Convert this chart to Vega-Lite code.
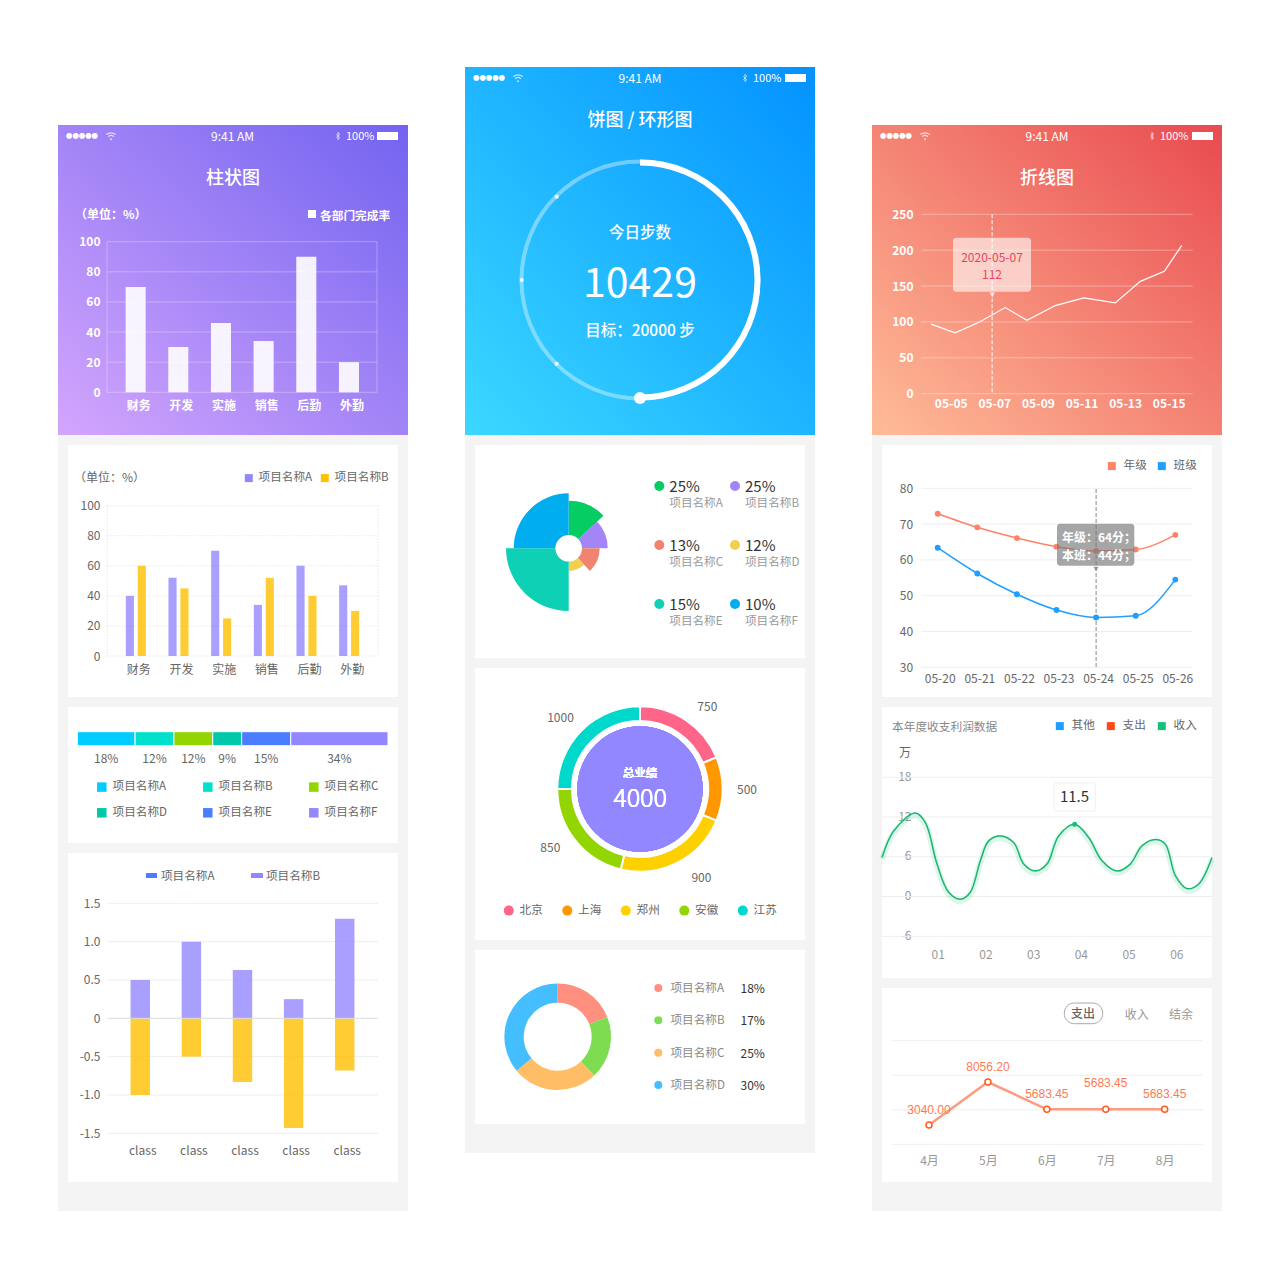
{"$schema":"https://vega.github.io/schema/vega-lite/v6.json","padding":{"left":58,"top":67,"right":0,"bottom":0},"background":"#ffffff","spacing":57,
"resolve":{"scale":{"color":"independent","theta":"independent","radius":"independent"},"legend":{"color":"independent"}},
"config":{"font":"Noto Sans CJK SC","view":{"stroke":null},"text":{"baseline":"middle","align":"left","fontSize":12,"dy":1},"axis":{"domain":false,"ticks":false,"grid":false,"labelPadding":0,"labelAngle":0,"labelFontSize":12,"labelColor":"#666666","labelOverlap":false,"labelFlush":false},"legend":{"symbolType":"square","symbolStrokeWidth":0,"symbolOpacity":1,"labelFontSize":11.6,"labelColor":"#666666","labelOffset":5},"style":{"c":{"align":"center"}}},
"hconcat":[
{"resolve":{"scale":{"color":"independent","theta":"independent","radius":"independent"},"legend":{"color":"independent"}},"vconcat":[
{"width":350,"height":58,"data":{"values":[{}]},"mark":{"type":"text","text":""}},
{"width":350,"height":315,"view":{"fill":{"gradient":"linear","x1":1,"y1":0,"x2":0,"y2":1,"stops":[{"offset":0,"color":"#7263f0"},{"offset":1,"color":"#d4a6fd"}]},"stroke":null},"data":{"values":[{}]},"layer":[
{"mark":{"type":"text","text":"●●●●●","fontSize":6.4,"fill":"#fff","x":8,"y":10}},
{"mark":{"type":"point","shape":"M-1,-.3 Q0,-1 1,-.3 M-.6,.15 Q0,-.4 .6,.15 M-.2,.55 L0,.75 L.2,.55","filled":false,"stroke":"#fff","strokeWidth":1.2,"size":90,"x":53,"y":11}},
{"mark":{"type":"text","text":"9:41 AM","style":"c","fontSize":12,"fill":"#fff","x":174.5,"y":11}},
{"mark":{"type":"point","shape":"M-.4,-.4 L.4,.4 L0,.9 L0,-.9 L.4,-.4 L-.4,.4","filled":false,"stroke":"#fff","strokeWidth":1,"size":64,"x":280,"y":11}},
{"mark":{"type":"text","text":"100%","fontSize":11,"fill":"#fff","x":288,"y":11}},
{"mark":{"type":"rect","x":319,"x2":340,"y":7,"y2":15,"fill":"#fff"}},
{"mark":{"type":"text","text":"柱状图","style":"c","fontSize":18,"fontWeight":500,"fill":"#fff","x":175,"y":53}},
{"mark":{"type":"text","text":"（单位：%）","fontSize":12,"fontWeight":"bold","fill":"#fff","x":17,"y":89}},
{"mark":{"type":"rect","x":250,"x2":258,"y":85,"y2":93,"fill":"#fff"}},
{"mark":{"type":"text","text":"各部门完成率","fontSize":11.7,"fontWeight":"bold","fill":"#fff","x":262,"y":90}},
{"data":{"values":[{"v":0},{"v":20},{"v":40},{"v":60},{"v":80},{"v":100}]},"mark":{"type":"rule","x":49,"x2":319,"stroke":"#fff","strokeOpacity":0.3},"encoding":{"y":{"field":"v","type":"quantitative","title":null,"scale":{"domain":[0,100],"range":[267.3,116.7]},"axis":{"values":[0,20,40,60,80,100],"offset":-42,"labelColor":"#fff","labelFontWeight":"bold"}}}},
{"mark":{"type":"rule","stroke":"#fff","strokeOpacity":0.3,"y":116.7,"y2":267.3},"encoding":{"x":{"value":49}}},
{"mark":{"type":"rule","stroke":"#fff","strokeOpacity":0.3,"y":116.7,"y2":267.3},"encoding":{"x":{"value":319}}},
{"data":{"values":[{"c":"财务","v":70},{"c":"开发","v":30},{"c":"实施","v":46},{"c":"销售","v":34},{"c":"后勤","v":90},{"c":"外勤","v":20}]},"mark":{"type":"bar","fill":"#fff","opacity":0.9},"encoding":{"x":{"field":"c","type":"nominal","sort":null,"title":null,"scale":{"type":"band","range":[56.3,312.3],"paddingInner":0.53,"paddingOuter":0.265},"axis":{"offset":-40,"labelOffset":3,"labelColor":"#fff","labelFontWeight":"bold"}},"y":{"field":"v","type":"quantitative","title":null,"scale":{"domain":[0,100],"range":[267.3,116.7]}}}}
]},
{"width":340,"height":262,"view":{"fill":"#fff","stroke":"#f4f4f4","strokeWidth":10},"layer":[
{"data":{"values":[{}]},"mark":{"type":"text","text":"（单位：%）","fill":"#666","x":11,"y":37}},
{"data":{"values":[{"v":0},{"v":20},{"v":40},{"v":60},{"v":80},{"v":100}]},"mark":{"type":"rule","x":44.3,"x2":315,"stroke":"#ddd","strokeDash":[1,2]},"encoding":{"y":{"field":"v","type":"quantitative","title":null,"scale":{"domain":[0,100],"range":[216,65.7]},"axis":{"values":[0,20,40,60,80,100],"offset":-37}}}},
{"data":{"values":[{}]},"mark":{"type":"rule","stroke":"#ddd","strokeDash":[1,2],"y":65.7,"y2":216},"encoding":{"x":{"value":44.3}}},
{"data":{"values":[{}]},"mark":{"type":"rule","stroke":"#ddd","strokeDash":[1,2],"y":65.7,"y2":216},"encoding":{"x":{"value":315}}},
{"data":{"values":[{"c":"财务","s":"项目名称A","v":40},{"c":"财务","s":"项目名称B","v":60},{"c":"开发","s":"项目名称A","v":52},{"c":"开发","s":"项目名称B","v":45},{"c":"实施","s":"项目名称A","v":70},{"c":"实施","s":"项目名称B","v":25},{"c":"销售","s":"项目名称A","v":34},{"c":"销售","s":"项目名称B","v":52},{"c":"后勤","s":"项目名称A","v":60},{"c":"后勤","s":"项目名称B","v":40},{"c":"外勤","s":"项目名称A","v":47},{"c":"外勤","s":"项目名称B","v":30}]},"mark":{"type":"bar","opacity":0.8},"encoding":{"x":{"field":"c","type":"nominal","sort":null,"title":null,"scale":{"type":"band","range":[51.5,307.5],"paddingInner":0.53,"paddingOuter":0.265},"axis":{"offset":-38,"labelOffset":3}},"xOffset":{"field":"s","type":"nominal","scale":{"paddingInner":0.32}},"y":{"field":"v","type":"quantitative","title":null,"scale":{"domain":[0,100],"range":[216,65.7]}},"color":{"field":"s","type":"nominal","title":null,"scale":{"domain":["项目名称A","项目名称B"],"range":["#9287ff","#ffc000"]},"legend":{"orient":"none","legendX":180,"legendY":32,"direction":"horizontal","columns":2,"symbolSize":64,"labelOffset":4,"columnPadding":6}}}}
]},
{"width":340,"height":146,"view":{"fill":"#fff","stroke":"#f4f4f4","strokeWidth":10},"data":{"values":[{"n":"项目名称A","v":18.6,"p":"18%"},{"n":"项目名称B","v":12.5,"p":"12%"},{"n":"项目名称C","v":12.5,"p":"12%"},{"n":"项目名称D","v":9.3,"p":"9%"},{"n":"项目名称E","v":15.8,"p":"15%"},{"n":"项目名称F","v":31.3,"p":"34%"}]},"transform":[{"stack":"v","groupby":[],"sort":[{"field":"n"}],"as":["a","b"]},{"calculate":"(datum.a+datum.b)/2","as":"m"}],"layer":[
{"mark":{"type":"rect","y":29.7,"y2":43.7,"stroke":"#fff","strokeWidth":1},"encoding":{"x":{"field":"a","type":"quantitative","title":null,"scale":{"domain":[0,100],"range":[14.3,325]},"axis":null},"x2":{"field":"b"},"color":{"field":"n","type":"nominal","title":null,"scale":{"domain":["项目名称A","项目名称B","项目名称C","项目名称D","项目名称E","项目名称F"],"range":["#00ccff","#00e0cc","#92d500","#00c8a8","#4a7dff","#9287ff"]},"legend":{"orient":"none","legendX":33,"legendY":79,"direction":"horizontal","columns":3,"symbolSize":90,"columnPadding":35,"rowPadding":13}}}},
{"mark":{"type":"text","style":"c","fill":"#666","y":56},"encoding":{"x":{"field":"m","type":"quantitative","title":null,"scale":{"domain":[0,100],"range":[14.3,325]},"axis":null},"text":{"field":"p"}}}
]},
{"width":340,"height":339,"view":{"fill":"#fff","stroke":"#f4f4f4","strokeWidth":10},"layer":[
{"data":{"values":[{}]},"mark":{"type":"rect","x":83,"x2":94,"y":25,"y2":30,"fill":"#4a7dff"}},
{"data":{"values":[{}]},"mark":{"type":"text","text":"项目名称A","fontSize":11.6,"fill":"#666","x":98,"y":28}},
{"data":{"values":[{}]},"mark":{"type":"rect","x":188,"x2":200,"y":25,"y2":30,"fill":"#9287ff"}},
{"data":{"values":[{}]},"mark":{"type":"text","text":"项目名称B","fontSize":11.6,"fill":"#666","x":203,"y":28}},
{"data":{"values":[{"v":-1.5},{"v":-1},{"v":-0.5},{"v":0.5},{"v":1},{"v":1.5}]},"mark":{"type":"rule","x":44.3,"x2":315,"stroke":"#eeeeee"},"encoding":{"y":{"field":"v","type":"quantitative","title":null,"scale":{"domain":[-1.5,1.5],"range":[285.3,55.3]},"axis":{"values":[-1.5,-1,-0.5,0,0.5,1,1.5],"offset":-37,"labelExpr":"datum.value==0?'0':(datum.value<0?'-':'')+format(abs(datum.value),'.1f')"}}}},
{"data":{"values":[{"c":1,"s":"A","v":-1},{"c":1,"s":"B","v":0.5},{"c":2,"s":"A","v":-0.5},{"c":2,"s":"B","v":1},{"c":3,"s":"A","v":-0.83},{"c":3,"s":"B","v":0.63},{"c":4,"s":"A","v":-1.43},{"c":4,"s":"B","v":0.25},{"c":5,"s":"A","v":-0.68},{"c":5,"s":"B","v":1.3}]},"mark":{"type":"bar","opacity":0.8},"encoding":{"x":{"field":"c","type":"ordinal","title":null,"scale":{"type":"band","range":[51.7,307.3],"paddingInner":0.62,"paddingOuter":0.31},"axis":{"offset":-42,"labelOffset":2.5,"labelExpr":"'class'"}},"y":{"field":"v","type":"quantitative","title":null,"stack":null,"scale":{"domain":[-1.5,1.5],"range":[285.3,55.3]}},"color":{"field":"s","type":"nominal","scale":{"domain":["A","B"],"range":["#ffc000","#9287ff"]},"legend":null}}},
{"data":{"values":[{"v":0}]},"mark":{"type":"rule","x":44.3,"x2":315,"stroke":"#dddddd"},"encoding":{"y":{"field":"v","type":"quantitative","title":null,"scale":{"domain":[-1.5,1.5],"range":[285.3,55.3]}}}}
]},
{"width":350,"height":24,"view":{"fill":"#f4f4f4","stroke":null},"data":{"values":[{}]},"mark":{"type":"text","text":""}}
],"spacing":0,"center":true,"bounds":"flush"},
{"spacing":50,"resolve":{"scale":{"color":"independent","theta":"independent","radius":"independent"},"legend":{"color":"independent"}},"hconcat":[
{"resolve":{"scale":{"color":"independent","theta":"independent","radius":"independent"},"legend":{"color":"independent"}},"vconcat":[
{"width":350,"height":373,"view":{"fill":{"gradient":"linear","x1":1,"y1":0,"x2":0,"y2":1,"stops":[{"offset":0,"color":"#0392ff"},{"offset":1,"color":"#3cd8ff"}]},"stroke":null},"data":{"values":[{}]},"layer":[
{"mark":{"type":"text","text":"●●●●●","fontSize":6.4,"fill":"#fff","x":8,"y":10}},
{"mark":{"type":"point","shape":"M-1,-.3 Q0,-1 1,-.3 M-.6,.15 Q0,-.4 .6,.15 M-.2,.55 L0,.75 L.2,.55","filled":false,"stroke":"#fff","strokeWidth":1.2,"size":90,"x":53,"y":11}},
{"mark":{"type":"text","text":"9:41 AM","style":"c","fontSize":12,"fill":"#fff","x":175,"y":11}},
{"mark":{"type":"point","shape":"M-.4,-.4 L.4,.4 L0,.9 L0,-.9 L.4,-.4 L-.4,.4","filled":false,"stroke":"#fff","strokeWidth":1,"size":64,"x":280,"y":11}},
{"mark":{"type":"text","text":"100%","fontSize":11,"fill":"#fff","x":288,"y":11}},
{"mark":{"type":"rect","x":320,"x2":341,"y":7,"y2":15,"fill":"#fff"}},
{"mark":{"type":"text","text":"饼图 / 环形图","style":"c","fontSize":18,"fontWeight":500,"fill":"#fff","x":175,"y":53}},
{"data":{"values":[{"part":"环","v":100}]},"mark":{"type":"arc","x":175,"y":213,"radius":120.5,"radius2":116.5,"fill":"#fff","opacity":0.38},"encoding":{"theta":{"field":"v","type":"quantitative","stack":true,"scale":{"domain":[0,100]}}}},
{"data":{"values":[{"part":"已完成","v":50},{"part":"其余","v":50}]},"mark":{"type":"arc","x":175,"y":213,"radius":120.5,"radius2":114.5},"encoding":{"theta":{"field":"v","type":"quantitative","stack":true,"scale":{"domain":[0,100]}},"order":{"field":"part","sort":"descending"},"color":{"field":"part","type":"nominal","scale":{"domain":["已完成","其余"],"range":["#ffffff","transparent"]},"legend":null}}},
{"mark":{"type":"point","shape":"circle","filled":true,"fill":"#fff","opacity":1,"size":16,"x":91.7,"y":129.7}},
{"mark":{"type":"point","shape":"circle","filled":true,"fill":"#fff","opacity":1,"size":16,"x":56.7,"y":213}},
{"mark":{"type":"point","shape":"circle","filled":true,"fill":"#fff","opacity":1,"size":16,"x":91.7,"y":296.7}},
{"mark":{"type":"point","shape":"circle","filled":true,"fill":"#fff","opacity":1,"size":144,"x":175,"y":331}},
{"mark":{"type":"text","text":"今日步数","style":"c","fontSize":15.5,"fontWeight":500,"fill":"#fff","x":175,"y":165}},
{"mark":{"type":"text","text":"10429","style":"c","fontSize":41,"fill":"#fff","x":175,"y":217}},
{"mark":{"type":"text","text":"目标：20000 步","style":"c","fontSize":15.5,"fontWeight":500,"fill":"#fff","x":175,"y":263}}
]},
{"width":340,"height":223,"view":{"fill":"#fff","stroke":"#f4f4f4","strokeWidth":10},"data":{"values":[{"i":1,"n":"项目名称A","v":13,"r":47.6,"p":"25%","c":1,"w":1},{"i":2,"n":"项目名称B","v":12,"r":39,"p":"25%","c":2,"w":1},{"i":3,"n":"项目名称C","v":13,"r":31,"p":"13%","c":1,"w":2},{"i":4,"n":"项目名称D","v":12,"r":22.6,"p":"12%","c":2,"w":2},{"i":5,"n":"项目名称E","v":25,"r":62.7,"p":"15%","c":1,"w":3},{"i":6,"n":"项目名称F","v":25,"r":55,"p":"10%","c":2,"w":3}]},"layer":[
{"transform":[{"stack":"v","groupby":[],"sort":[{"field":"i"}],"as":["a","b"]}],"mark":{"type":"arc","x":98.7,"y":108.3,"radius2":13.3},"encoding":{"theta":{"field":"a","type":"quantitative","scale":{"domain":[0,100]}},"theta2":{"field":"b"},"radius":{"field":"r","type":"quantitative","scale":{"type":"linear","domain":[0,100],"range":[0,100]}},"color":{"field":"n","type":"nominal","scale":{"domain":["项目名称A","项目名称B","项目名称C","项目名称D","项目名称E","项目名称F"],"range":["#05cc63","#a385f7","#f08470","#f0d050","#0ed0b4","#00aeef"]},"legend":null}}},
{"mark":{"type":"point","filled":true,"shape":"circle","opacity":1,"size":100},"encoding":{"x":{"field":"c","type":"ordinal","title":null,"scale":{"type":"point","padding":0,"range":[189.3,265]},"axis":null},"y":{"field":"w","type":"ordinal","title":null,"scale":{"type":"point","padding":0,"range":[46,164]},"axis":null},"color":{"field":"n","type":"nominal","scale":{"domain":["项目名称A","项目名称B","项目名称C","项目名称D","项目名称E","项目名称F"],"range":["#05cc63","#a385f7","#f08470","#f0d050","#0ed0b4","#00aeef"]},"legend":null}}},
{"mark":{"type":"text","dx":10,"fontSize":15,"fill":"#333"},"encoding":{"x":{"field":"c","type":"ordinal","title":null,"scale":{"type":"point","padding":0,"range":[189.3,265]},"axis":null},"y":{"field":"w","type":"ordinal","title":null,"scale":{"type":"point","padding":0,"range":[46,164]},"axis":null},"text":{"field":"p"}}},
{"mark":{"type":"text","dx":10,"dy":18,"fontSize":11.6,"fill":"#999"},"encoding":{"x":{"field":"c","type":"ordinal","title":null,"scale":{"type":"point","padding":0,"range":[189.3,265]},"axis":null},"y":{"field":"w","type":"ordinal","title":null,"scale":{"type":"point","padding":0,"range":[46,164]},"axis":null},"text":{"field":"n"}}}
]},
{"width":340,"height":282,"view":{"fill":"#fff","stroke":"#f4f4f4","strokeWidth":10},"data":{"values":[{"i":1,"n":"北京","v":750,"la":433},{"i":2,"n":"上海","v":500,"la":1000},{"i":3,"n":"郑州","v":900,"la":1611},{"i":4,"n":"安徽","v":850,"la":2633},{"i":5,"n":"江苏","v":1000,"la":3467}]},"layer":[
{"mark":{"type":"arc","x":170,"y":126,"radius":82.7,"radius2":68,"stroke":"#fff","strokeWidth":2},"encoding":{"theta":{"field":"v","type":"quantitative","stack":true,"scale":{"domain":[0,4000]}},"order":{"field":"i"},"color":{"field":"n","type":"nominal","title":null,"scale":{"domain":["北京","上海","郑州","安徽","江苏"],"range":["#ff6489","#ff9800","#ffd000","#92d500","#00d8cc"]},"legend":{"orient":"none","legendX":33,"legendY":241.5,"direction":"horizontal","columns":5,"symbolType":"circle","symbolSize":100,"columnPadding":18.5}}}},
{"mark":{"type":"text","style":"c","x":170,"y":126,"radius":107,"fill":"#666"},"encoding":{"theta":{"field":"la","type":"quantitative","stack":null,"scale":{"domain":[0,4000]}},"text":{"field":"v"}}},
{"mark":{"type":"point","shape":"circle","filled":true,"fill":"#9287ff","opacity":1,"size":15725,"x":170,"y":126}},
{"mark":{"type":"text","text":"总业绩","style":"c","fontSize":11.5,"fontWeight":500,"fill":"#fff","x":170,"y":110}},
{"mark":{"type":"text","text":"4000","style":"c","fontSize":25,"fontWeight":300,"fill":"#fff","x":170,"y":135}}
]},
{"width":340,"height":184,"view":{"fill":"#fff","stroke":"#f4f4f4","strokeWidth":10},"data":{"values":[{"i":1,"n":"项目名称A","v":19,"p":"18%"},{"i":2,"n":"项目名称B","v":19,"p":"17%"},{"i":3,"n":"项目名称C","v":26,"p":"25%"},{"i":4,"n":"项目名称D","v":36,"p":"30%"}]},"layer":[
{"mark":{"type":"arc","x":87.7,"y":91.7,"radius":53.3,"radius2":34},"encoding":{"theta":{"field":"v","type":"quantitative","stack":true},"order":{"field":"i"},"color":{"field":"n","type":"nominal","scale":{"domain":["项目名称A","项目名称B","项目名称C","项目名称D"],"range":["#ff9080","#7edc50","#ffbe66","#45beff"]},"legend":null}}},
{"mark":{"type":"point","filled":true,"shape":"circle","opacity":1,"size":64,"x":188.3},"encoding":{"y":{"field":"n","type":"ordinal","title":null,"scale":{"type":"point","padding":0,"range":[43,140]},"axis":null},"color":{"field":"n","type":"nominal","scale":{"domain":["项目名称A","项目名称B","项目名称C","项目名称D"],"range":["#ff9080","#7edc50","#ffbe66","#45beff"]},"legend":null}}},
{"mark":{"type":"text","x":200.5,"fontSize":11.6,"fill":"#888"},"encoding":{"y":{"field":"n","type":"ordinal","title":null,"scale":{"type":"point","padding":0,"range":[43,140]},"axis":null},"text":{"field":"n"}}},
{"mark":{"type":"text","x":270.5,"fill":"#333"},"encoding":{"y":{"field":"n","type":"ordinal","title":null,"scale":{"type":"point","padding":0,"range":[43,140]},"axis":null},"text":{"field":"p"}}}
]},
{"width":350,"height":24,"view":{"fill":"#f4f4f4","stroke":null},"data":{"values":[{}]},"mark":{"type":"text","text":""}}
],"spacing":0,"center":true,"bounds":"flush"},
{"resolve":{"scale":{"color":"independent","theta":"independent","radius":"independent"},"legend":{"color":"independent"}},"vconcat":[
{"width":350,"height":58,"data":{"values":[{}]},"mark":{"type":"text","text":""}},
{"width":350,"height":315,"view":{"fill":{"gradient":"linear","x1":1,"y1":0,"x2":0,"y2":1,"stops":[{"offset":0,"color":"#e94a4f"},{"offset":1,"color":"#ffbd99"}]},"stroke":null},"data":{"values":[{}]},"layer":[
{"mark":{"type":"text","text":"●●●●●","fontSize":6.4,"fill":"#fff","x":8,"y":10}},
{"mark":{"type":"point","shape":"M-1,-.3 Q0,-1 1,-.3 M-.6,.15 Q0,-.4 .6,.15 M-.2,.55 L0,.75 L.2,.55","filled":false,"stroke":"#fff","strokeWidth":1.2,"size":90,"x":53,"y":11}},
{"mark":{"type":"text","text":"9:41 AM","style":"c","fontSize":12,"fill":"#fff","x":175,"y":11}},
{"mark":{"type":"point","shape":"M-.4,-.4 L.4,.4 L0,.9 L0,-.9 L.4,-.4 L-.4,.4","filled":false,"stroke":"#fff","strokeWidth":1,"size":64,"x":280,"y":11}},
{"mark":{"type":"text","text":"100%","fontSize":11,"fill":"#fff","x":288,"y":11}},
{"mark":{"type":"rect","x":320,"x2":341,"y":7,"y2":15,"fill":"#fff"}},
{"mark":{"type":"text","text":"折线图","style":"c","fontSize":18,"fontWeight":500,"fill":"#fff","x":175,"y":53}},
{"data":{"values":[{"v":0},{"v":50},{"v":100},{"v":150},{"v":200},{"v":250}]},"mark":{"type":"rule","x":49.3,"x2":320.7,"stroke":"#fff","strokeOpacity":0.35},"encoding":{"y":{"field":"v","type":"quantitative","title":null,"scale":{"domain":[0,250],"range":[268.7,89.3]},"axis":{"values":[0,50,100,150,200,250],"offset":-41,"labelColor":"#fff","labelFontWeight":"bold"}}}},
{"data":{"values":[{"d":6.9}]},"mark":{"type":"rule","y":89.3,"y2":268,"stroke":"#fff","strokeDash":[4,2]},"encoding":{"x":{"field":"d","type":"quantitative","title":null,"scale":{"domain":[5,15],"range":[78.7,296.7]}}}},
{"data":{"values":[{"d":4.1,"v":97},{"d":5.2,"v":84.7},{"d":6.3,"v":99.6},{"d":7.5,"v":120},{"d":8.5,"v":102.3},{"d":9.8,"v":122.8},{"d":11.1,"v":133.5},{"d":12.55,"v":126.5},{"d":13.7,"v":156.6},{"d":14.8,"v":170.5},{"d":15.6,"v":206.7}]},"mark":{"type":"line","stroke":"#fff","strokeWidth":1.2},"encoding":{"x":{"field":"d","type":"quantitative","title":null,"scale":{"domain":[5,15],"range":[78.7,296.7]},"axis":{"values":[5,7,9,11,13,15],"offset":-42,"labelColor":"#fff","labelFontWeight":"bold","labelExpr":"'05-'+(datum.value<10?'0':'')+datum.value"}},"y":{"field":"v","type":"quantitative","title":null,"scale":{"domain":[0,250],"range":[268.7,89.3]}}}},
{"mark":{"type":"rect","x":81,"x2":159,"y":112.7,"y2":166.7,"fill":"#fff","opacity":0.6,"cornerRadius":3}},
{"mark":{"type":"point","shape":"triangle-down","filled":true,"fill":"#fff","opacity":0.6,"size":36,"x":120.3,"y":170}},
{"mark":{"type":"text","text":"2020-05-07","style":"c","fill":"#e8445a","x":120,"y":132}},
{"mark":{"type":"text","text":"112","style":"c","fill":"#e8445a","x":120,"y":149}}
]},
{"width":340,"height":262,"view":{"fill":"#fff","stroke":"#f4f4f4","strokeWidth":10},"layer":[
{"data":{"values":[{"v":30},{"v":40},{"v":50},{"v":60},{"v":70},{"v":80}]},"mark":{"type":"rule","x":44.3,"x2":315.7,"stroke":"#eeeeee"},"encoding":{"y":{"field":"v","type":"quantitative","title":null,"scale":{"domain":[30,80],"range":[227.3,48.3]},"axis":{"values":[30,40,50,60,70,80],"offset":-35.7}}}},
{"data":{"values":[{"d":"05-24"}]},"mark":{"type":"rule","y":49,"y2":227,"stroke":"#888","strokeDash":[4,2]},"encoding":{"x":{"field":"d","type":"ordinal","title":null,"scale":{"type":"point","padding":0,"range":[60.7,298.3],"domain":["05-20","05-21","05-22","05-23","05-24","05-25","05-26"]}}}},
{"data":{"name":"r2","values":[{"d":"05-20","s":"年级","v":72.9},{"d":"05-21","s":"年级","v":69.1},{"d":"05-22","s":"年级","v":66.1},{"d":"05-23","s":"年级","v":63.7},{"d":"05-24","s":"年级","v":62.5},{"d":"05-25","s":"年级","v":62.9},{"d":"05-26","s":"年级","v":67},{"d":"05-20","s":"班级","v":63.4},{"d":"05-21","s":"班级","v":56.2},{"d":"05-22","s":"班级","v":50.4},{"d":"05-23","s":"班级","v":46},{"d":"05-24","s":"班级","v":43.9},{"d":"05-25","s":"班级","v":44.4},{"d":"05-26","s":"班级","v":54.5}]},"mark":{"type":"line","interpolate":"monotone","strokeWidth":1.5},"encoding":{"x":{"field":"d","type":"ordinal","title":null,"scale":{"type":"point","padding":0,"range":[60.7,298.3],"domain":["05-20","05-21","05-22","05-23","05-24","05-25","05-26"]},"axis":{"offset":-29,"labelOffset":2}},"y":{"field":"v","type":"quantitative","title":null,"scale":{"domain":[30,80],"range":[227.3,48.3]}},"color":{"field":"s","type":"nominal","title":null,"scale":{"domain":["年级","班级"],"range":["#ff8268","#1e9eff"]}}}},
{"data":{"name":"r2"},"mark":{"type":"point","filled":true,"shape":"circle","opacity":1,"size":34},"encoding":{"x":{"field":"d","type":"ordinal","title":null,"scale":{"type":"point","padding":0,"range":[60.7,298.3],"domain":["05-20","05-21","05-22","05-23","05-24","05-25","05-26"]}},"y":{"field":"v","type":"quantitative","title":null,"scale":{"domain":[30,80],"range":[227.3,48.3]}},"color":{"field":"s","type":"nominal","title":null,"scale":{"domain":["年级","班级"],"range":["#ff8268","#1e9eff"]},"legend":{"orient":"none","legendX":229,"legendY":20,"direction":"horizontal","columns":2,"symbolSize":64,"labelOffset":6,"columnPadding":9,"symbolType":"square"}}}},
{"data":{"values":[{}]},"mark":{"type":"rect","x":180,"x2":257.3,"y":83.7,"y2":125.7,"fill":"#777","opacity":0.65,"cornerRadius":3}},
{"data":{"values":[{}]},"mark":{"type":"point","shape":"triangle-down","filled":true,"fill":"#777","opacity":0.65,"size":30,"x":219,"y":129}},
{"data":{"values":[{}]},"mark":{"type":"text","text":"年级：64分；","style":"c","fontWeight":"bold","fill":"#fff","x":222,"y":97}},
{"data":{"values":[{}]},"mark":{"type":"text","text":"本班：44分；","style":"c","fontWeight":"bold","fill":"#fff","x":222,"y":115}}
]},
{"width":340,"height":281,"view":{"fill":"#fff","stroke":"#f4f4f4","strokeWidth":10},"layer":[
{"data":{"values":[{}]},"mark":{"type":"text","text":"本年度收支利润数据","fontSize":11.7,"fill":"#888","x":15,"y":24}},
{"data":{"values":[{}]},"mark":{"type":"text","text":"万","style":"c","fill":"#666","x":28,"y":50}},
{"data":{"values":[{"v":-6},{"v":0},{"v":6},{"v":12},{"v":18}]},"mark":{"type":"rule","x":5,"x2":335,"stroke":"#eeeeee"},"encoding":{"y":{"field":"v","type":"quantitative","title":null,"scale":{"domain":[-6,18],"range":[234.3,75.3]},"axis":{"values":[-6,0,6,12,18],"offset":-34,"labelOffset":-1,"labelColor":"#999999","labelExpr":"(datum.value<0?'-':'')+abs(datum.value)"}}}},
{"data":{"name":"wave","values":[{"m":-0.166,"v":5.9},{"m":0.078,"v":9.9},{"m":0.532,"v":12.6},{"m":0.742,"v":11.15},{"m":0.986,"v":4.9},{"m":1.23,"v":0.65},{"m":1.475,"v":-0.4},{"m":1.684,"v":0.65},{"m":1.894,"v":5.4},{"m":2.068,"v":8.4},{"m":2.313,"v":9.15},{"m":2.592,"v":8.15},{"m":2.802,"v":4.9},{"m":3.046,"v":3.85},{"m":3.29,"v":4.9},{"m":3.535,"v":9.15},{"m":3.87,"v":10.9},{"m":4.163,"v":8.9},{"m":4.443,"v":5.4},{"m":4.757,"v":3.85},{"m":5.036,"v":4.9},{"m":5.28,"v":7.65},{"m":5.56,"v":8.6},{"m":5.77,"v":7.9},{"m":5.98,"v":3.15},{"m":6.22,"v":1.2},{"m":6.47,"v":1.9},{"m":6.747,"v":5.9}]},"mark":{"type":"line","interpolate":"catmull-rom","stroke":"#14b86e","strokeWidth":6,"opacity":0.14,"yOffset":2},"encoding":{"x":{"field":"m","type":"quantitative","title":null,"scale":{"domain":[1,6],"range":[60.7,299.3]},"axis":{"values":[1,2,3,4,5,6],"offset":-34,"labelColor":"#999999","labelExpr":"'0'+datum.value"}},"y":{"field":"v","type":"quantitative","title":null,"scale":{"domain":[-6,18],"range":[234.3,75.3]}}}},
{"data":{"name":"wave"},"mark":{"type":"line","interpolate":"catmull-rom","stroke":"#14b86e","strokeWidth":1.5},"encoding":{"x":{"field":"m","type":"quantitative","title":null,"scale":{"domain":[1,6],"range":[60.7,299.3]}},"y":{"field":"v","type":"quantitative","title":null,"scale":{"domain":[-6,18],"range":[234.3,75.3]}}}},
{"data":{"values":[{"m":3.87,"v":10.9,"s":"收入"}]},"mark":{"type":"point","filled":true,"shape":"circle","opacity":1,"size":25},"encoding":{"x":{"field":"m","type":"quantitative","title":null,"scale":{"domain":[1,6],"range":[60.7,299.3]}},"y":{"field":"v","type":"quantitative","title":null,"scale":{"domain":[-6,18],"range":[234.3,75.3]}},"color":{"field":"s","type":"nominal","title":null,"scale":{"domain":["其他","支出","收入"],"range":["#1e9eff","#ff4a17","#14c07a"]},"legend":{"orient":"none","legendX":177,"legendY":18,"direction":"horizontal","columns":3,"symbolSize":64,"labelOffset":6,"columnPadding":10}}}},
{"data":{"values":[{}]},"mark":{"type":"rect","x":177,"x2":218.3,"y":81,"y2":109,"fill":"#fff","stroke":"#f0f0f0","cornerRadius":2}},
{"data":{"values":[{}]},"mark":{"type":"text","text":"11.5","style":"c","fontSize":15,"fill":"#333","x":197.5,"y":94}}
]},
{"width":340,"height":204,"view":{"fill":"#fff","stroke":"#f4f4f4","strokeWidth":10},"layer":[
{"data":{"values":[{}]},"mark":{"type":"rect","x":187.3,"x2":225.7,"y":20,"y2":40.7,"fill":"transparent","stroke":"#aaa","cornerRadius":10}},
{"data":{"values":[{}]},"mark":{"type":"text","text":"支出","style":"c","fill":"#666","fontWeight":500,"x":206,"y":30}},
{"data":{"values":[{}]},"mark":{"type":"text","text":"收入","style":"c","fill":"#999","x":259.7,"y":31}},
{"data":{"values":[{}]},"mark":{"type":"text","text":"结余","style":"c","fill":"#999","x":304,"y":31}},
{"data":{"values":[{"v":0},{"v":3000},{"v":6000},{"v":9000}]},"mark":{"type":"rule","x":15,"x2":325.7,"stroke":"#eeeeee"},"encoding":{"y":{"field":"v","type":"quantitative","title":null,"scale":{"domain":[0,9000],"range":[161.3,57.7]},"axis":null}}},
{"data":{"name":"r4","values":[{"c":"4月","v":1677,"ly":3093,"l":"3040.00"},{"c":"5月","v":5412,"ly":6777,"l":"8056.20"},{"c":"6月","v":3040,"ly":4483,"l":"5683.45"},{"c":"7月","v":3040,"ly":5412,"l":"5683.45"},{"c":"8月","v":3040,"ly":4483,"l":"5683.45"}]},"mark":{"type":"line","stroke":"#ff9a80","strokeWidth":2.5},"encoding":{"x":{"field":"c","type":"ordinal","title":null,"scale":{"type":"point","padding":0,"range":[52,287.7]},"axis":{"offset":-32,"labelColor":"#999999"}},"y":{"field":"v","type":"quantitative","title":null,"scale":{"domain":[0,9000],"range":[161.3,57.7]},"axis":null}}},
{"data":{"name":"r4"},"mark":{"type":"point","shape":"circle","filled":true,"fill":"#fff","stroke":"#ff5a1f","strokeWidth":1.5,"opacity":1,"size":36},"encoding":{"x":{"field":"c","type":"ordinal","title":null,"scale":{"type":"point","padding":0,"range":[52,287.7]}},"y":{"field":"v","type":"quantitative","title":null,"scale":{"domain":[0,9000],"range":[161.3,57.7]},"axis":null}}},
{"data":{"name":"r4"},"mark":{"type":"text","style":"c","fill":"#ff7a50","font":"Liberation Sans"},"encoding":{"x":{"field":"c","type":"ordinal","title":null,"scale":{"type":"point","padding":0,"range":[52,287.7]}},"y":{"field":"ly","type":"quantitative","title":null,"scale":{"domain":[0,9000],"range":[161.3,57.7]},"axis":null},"text":{"field":"l"}}}
]},
{"width":350,"height":24,"view":{"fill":"#f4f4f4","stroke":null},"data":{"values":[{}]},"mark":{"type":"text","text":""}}
],"spacing":0,"center":true,"bounds":"flush"}
]}
]}
